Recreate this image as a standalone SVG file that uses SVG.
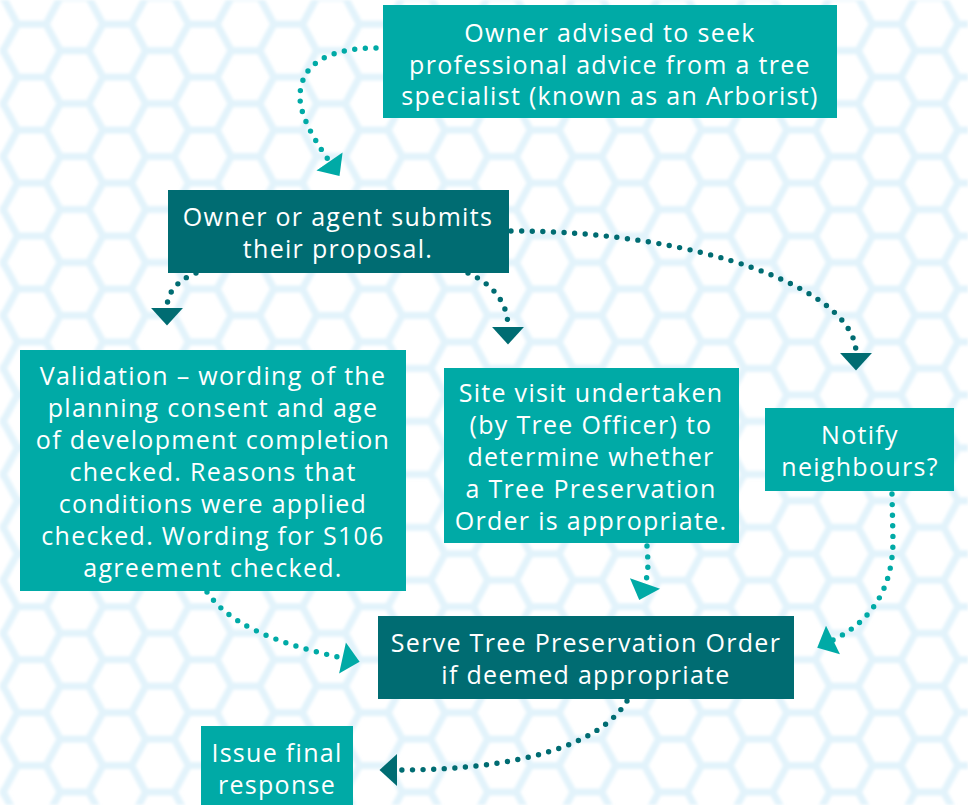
<svg xmlns="http://www.w3.org/2000/svg" width="968" height="805" viewBox="0 0 968 805">
<style>
.box-l{fill:#00AAA6}
.box-d{fill:#006C72}
.t{font-family:"Open Sans","Liberation Sans",sans-serif;font-size:25px;letter-spacing:1.3px;fill:#ffffff;text-anchor:middle}
.c{fill:none;stroke-width:5.4;stroke-linecap:round;stroke-dasharray:0 10.6}
.cl{stroke:#00AAA6}
.cd{stroke:#006C72}
.hex{fill:none;stroke:#E2F3FB;stroke-width:7}
</style>
<defs>
<filter id="soft" x="-5%" y="-5%" width="110%" height="110%"><feGaussianBlur stdDeviation="1.8"/></filter>
<pattern id="hexes" patternUnits="userSpaceOnUse" x="31.7" y="50.64" width="85.5" height="52.96">
<path class="hex" d="M-28.5,0 L-14.25,-26.48 L14.25,-26.48 L28.5,0 L14.25,26.48 L-14.25,26.48 Z M57,0 L71.25,-26.48 L99.75,-26.48 L114,0 L99.75,26.48 L71.25,26.48 Z M-28.5,52.96 L-14.25,26.48 L14.25,26.48 L28.5,52.96 L14.25,79.44 L-14.25,79.44 Z M57,52.96 L71.25,26.48 L99.75,26.48 L114,52.96 L99.75,79.44 L71.25,79.44 Z M14.25,26.48 L28.5,0 L57,0 L71.25,26.48 L57,52.96 L28.5,52.96 Z"/>
</pattern>
<marker id="al" markerUnits="userSpaceOnUse" markerWidth="20" markerHeight="34" viewBox="0 -16 18 32" refX="0" refY="0" orient="auto"><path d="M0,-15 L16.5,0 L0,15 Z" fill="#00AAA6"/></marker>
<marker id="ad" markerUnits="userSpaceOnUse" markerWidth="20" markerHeight="34" viewBox="0 -16 18 32" refX="0" refY="0" orient="auto"><path d="M0,-15 L16.5,0 L0,15 Z" fill="#006C72"/></marker>
</defs>
<rect width="968" height="805" fill="#ffffff"/>
<rect width="968" height="805" fill="url(#hexes)" filter="url(#soft)"/>

<g id="connectors">
<path class="c cl" marker-end="url(#al)" d="M376,48 C335,48 300,60 300,97 C300,118 318,145 329.5,161.5"/>
<path class="c cd" marker-end="url(#ad)" d="M196,273 C178,280 167,292 167,308"/>
<path class="c cd" marker-end="url(#ad)" d="M468,273 C495,285 508,305 508,327"/>
<path class="c cd" marker-end="url(#ad)" d="M511,231 C700,231 856,290 856,353"/>
<path class="c cl" marker-end="url(#al)" d="M647,546 C648,560 649,572 645,583.5"/>
<path class="c cl" marker-end="url(#al)" d="M892,494 L893,540 C893,590 870,622 833,640"/>
<path class="c cl" marker-end="url(#al)" d="M207,592 C225,618 260,640 342.5,658"/>
<path class="c cd" marker-end="url(#ad)" d="M627,701 C600,745 520,770 397,770"/>
</g>

<g id="n-advice">
<rect class="box-l" x="383" y="5" width="454" height="113"/>
<text class="t" x="610" y="42">Owner advised to seek</text>
<text class="t" x="610" y="73.5">professional advice from a tree</text>
<text class="t" x="610" y="105">specialist (known as an Arborist)</text>
</g>

<g id="n-submit">
<rect class="box-d" x="168" y="190" width="341" height="83"/>
<text class="t" x="338" y="226">Owner or agent submits</text>
<text class="t" x="338" y="258">their proposal.</text>
</g>

<g id="n-validation">
<rect class="box-l" x="20" y="350" width="386" height="241"/>
<text class="t" x="213" y="385">Validation – wording of the</text>
<text class="t" x="213" y="417">planning consent and age</text>
<text class="t" x="213" y="449">of development completion</text>
<text class="t" x="213" y="481">checked. Reasons that</text>
<text class="t" x="213" y="513">conditions were applied</text>
<text class="t" x="213" y="545">checked. Wording for S106</text>
<text class="t" x="213" y="577">agreement checked.</text>
</g>

<g id="n-sitevisit">
<rect class="box-l" x="444" y="368" width="295" height="175"/>
<text class="t" x="591" y="402">Site visit undertaken</text>
<text class="t" x="591" y="434">(by Tree Officer) to</text>
<text class="t" x="591" y="466">determine whether</text>
<text class="t" x="591" y="498">a Tree Preservation</text>
<text class="t" x="591" y="530">Order is appropriate.</text>
</g>

<g id="n-notify">
<rect class="box-l" x="765" y="408" width="189" height="83"/>
<text class="t" x="860" y="444">Notify</text>
<text class="t" x="860" y="476">neighbours?</text>
</g>

<g id="n-serve">
<rect class="box-d" x="378" y="616" width="416" height="83"/>
<text class="t" x="586" y="652">Serve Tree Preservation Order</text>
<text class="t" x="586" y="684">if deemed appropriate</text>
</g>

<g id="n-issue">
<rect class="box-l" x="201" y="726" width="152" height="79"/>
<text class="t" x="277" y="762">Issue final</text>
<text class="t" x="277" y="794">response</text>
</g>
</svg>
